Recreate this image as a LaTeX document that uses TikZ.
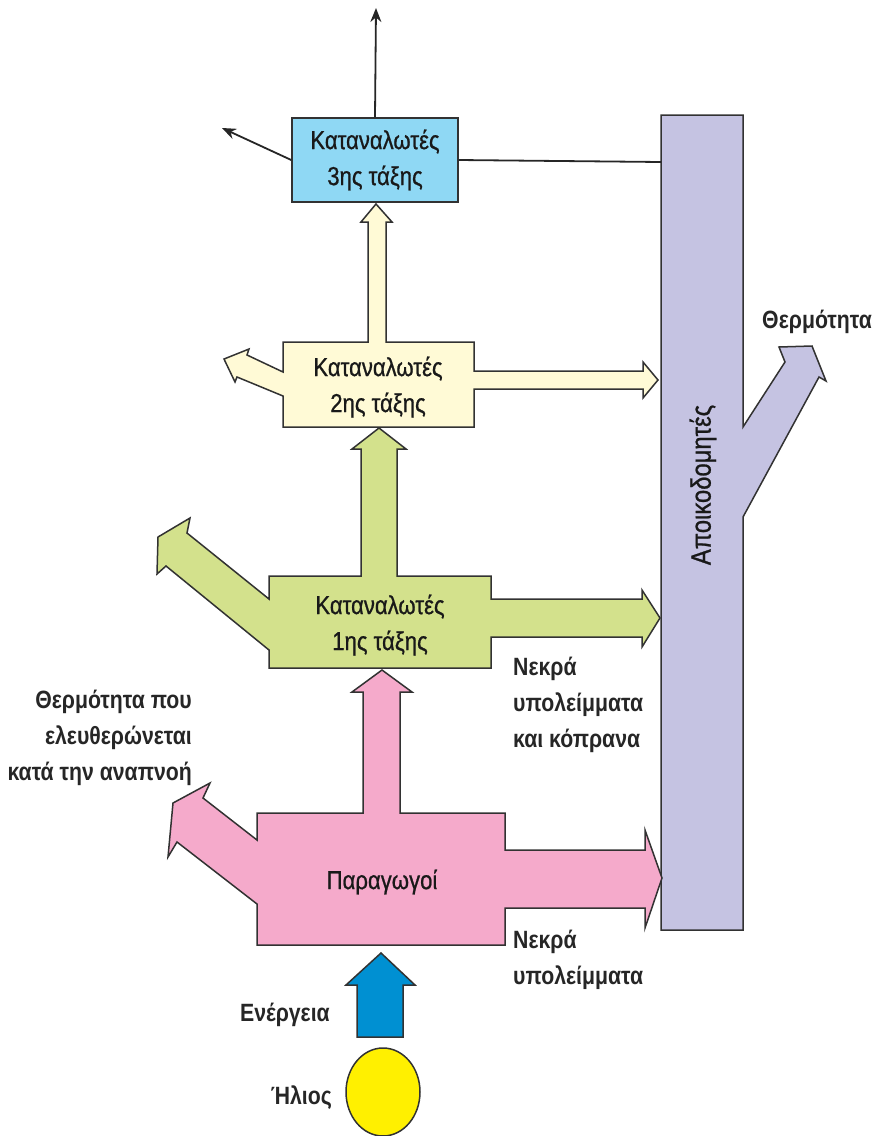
\documentclass[tikz,border=0pt]{standalone}
\usepackage{fontspec}
\setmainfont{Liberation Sans}[FakeStretch=0.85]
\newfontfamily\boxfont{Liberation Sans}[FakeStretch=0.85,FakeBold=0.8]
\usetikzlibrary{arrows.meta,shapes.geometric}
\definecolor{kyano}{RGB}{143,216,244}
\definecolor{krem}{RGB}{255,250,214}
\definecolor{prasino}{RGB}{211,225,140}
\definecolor{roz}{RGB}{245,170,203}
\definecolor{mov}{RGB}{197,195,226}
\definecolor{energeia}{RGB}{0,144,210}
\definecolor{helios}{RGB}{255,240,0}
\definecolor{perigramma}{RGB}{50,50,50}
\tikzset{
  flowshape/.style={draw=perigramma,line width=1.5pt,line join=miter},
  boxtext/.style={font=\boxfont\fontsize{26}{36}\selectfont,align=center,inner sep=0pt,text=black!90},
  note/.style={font=\bfseries\fontsize{25}{36}\selectfont,inner sep=0pt,text=black!85},
  thinarrow/.style={-{Stealth[length=14pt,width=11pt]},line width=1.8pt,black!85}
}
\begin{document}
\begin{tikzpicture}[x=1pt,y=-1pt]
\useasboundingbox (0,0) rectangle (876,1136);

% apoikodomites
\draw[flowshape,fill=mov] (661,115) -- (743,115) -- (743,427) -- (785,362) -- (779,347) -- (812,346) -- (826,381) -- (819,377) -- (743,517) -- (743,930) -- (661,930) -- cycle;
\node[boxtext,font=\boxfont\fontsize{28}{36}\selectfont,rotate=90] (apo) at (703,485) {Αποικοδομητές};
\coordinate (apoline) at (661,162);

% katanalotes 2is taxis
\draw[flowshape,fill=krem] (283,342) -- (368,342) -- (368,222) -- (361,222) -- (376,204) -- (392,222) -- (386,222) -- (386,342) -- (474,342) -- (474,371) -- (643,371) -- (643,362) -- (658,380) -- (643,398) -- (643,389) -- (474,389) -- (474,427) -- (283,427) -- (283,396) -- (237,377) -- (235,382) -- (224,359) -- (249,349) -- (247,355) -- (283,372) -- cycle;
\node[boxtext] (c2) at (378,387) {Καταναλωτές\\2ης τάξης};

% katanalotes 1is taxis
\draw[flowshape,fill=prasino] (269,576) -- (361,576) -- (361,449) -- (352,449) -- (379,428) -- (406,449) -- (397,449) -- (397,576) -- (491,576) -- (491,599) -- (642,599) -- (642,590) -- (660,618) -- (642,647) -- (642,637) -- (491,637) -- (491,668) -- (269,668) -- (269,650) -- (166,566) -- (157,574) -- (158,537) -- (190,518) -- (187,533) -- (269,599) -- cycle;
\node[boxtext] (c1) at (380,625) {Καταναλωτές\\1ης τάξης};

% paragogoi
\draw[flowshape,fill=roz] (257,813) -- (363,813) -- (363,692) -- (352,692) -- (382,670) -- (412,692) -- (400,692) -- (400,813) -- (505,813) -- (505,850) -- (645,850) -- (645,830) -- (662,878) -- (645,928) -- (645,908) -- (505,908) -- (505,945) -- (257,945) -- (257,904) -- (177,842) -- (168,857) -- (173,803) -- (210,783) -- (203,798) -- (257,840) -- cycle;
\node[boxtext] (p) at (382,882) {Παραγωγοί};

% katanalotes 3is taxis
\node[draw=perigramma,line width=1.5pt,fill=kyano,minimum width=166,minimum height=84,boxtext] (c3) at (375,160) {Καταναλωτές\\3ης τάξης};
\coordinate (up3) at (376,8);
\coordinate (left3) at (222,128);
\draw[thinarrow] (c3.north) -- (up3);
\draw[thinarrow] (c3.west) -- (left3);
\draw[line width=1.8pt,black!85] (c3.east) -- (apoline);

% ilios kai energeia
\draw[flowshape,fill=energeia] (357,1037) -- (357,985) -- (346,985) -- (381,953) -- (415,985) -- (403,985) -- (403,1037) -- cycle;
\node[ellipse,draw=perigramma,line width=1.5pt,fill=helios,minimum width=74,minimum height=88,inner sep=0pt] (ilios) at (383,1092) {};

% labels
\node[note,anchor=east] (en) at (330,1015) {Ενέργεια};
\node[note,anchor=east] (il) at (332,1098) {Ήλιος};
\node[note,anchor=west,align=left] (nekra2) at (513,960) {Νεκρά\\υπολείμματα};
\node[note,anchor=west,align=left] (nekra1) at (513,705) {Νεκρά\\υπολείμματα\\και κόπρανα};
\node[note,anchor=east,align=right] (therm1) at (192,738) {Θερμότητα που\\ελευθερώνεται\\κατά την αναπνοή};
\node[note] (therm2) at (817,322) {Θερμότητα};
\end{tikzpicture}
\end{document}
